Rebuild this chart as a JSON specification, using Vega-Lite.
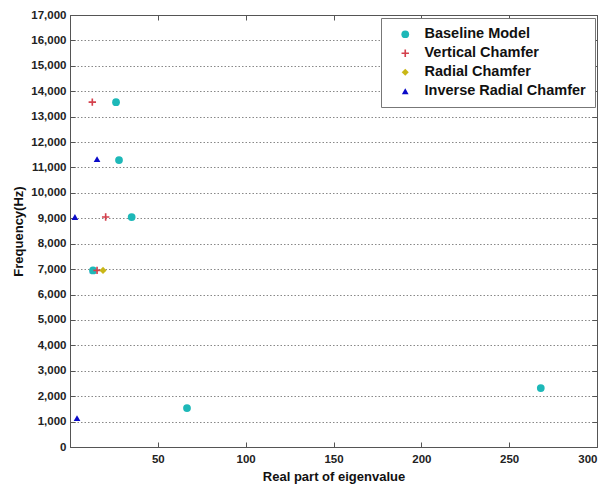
{
  "$schema": "https://vega.github.io/schema/vega-lite/v6.json",
  "width": 527,
  "height": 432,
  "autosize": {"type": "none"},
  "padding": {"left": 70, "top": 15, "right": 11, "bottom": 39},
  "background": "white",
  "config": {
    "view": {"stroke": "#555", "strokeWidth": 1},
    "font": "Liberation Sans",
    "axis": {
      "labelFont": "Liberation Sans",
      "labelFontWeight": "bold",
      "labelFontSize": 11.5,
      "labelColor": "#222",
      "titleFont": "Liberation Sans",
      "titleFontWeight": "bold",
      "titleFontSize": 13,
      "titleColor": "#111",
      "domainColor": "#555",
      "tickColor": "#555",
      "tickSize": -5
    },
    "legend": {
      "labelFont": "Liberation Sans",
      "labelFontWeight": "bold",
      "labelFontSize": 14.5,
      "labelColor": "#111",
      "labelLimit": 400
    }
  },
  "data": {
    "values": [
      {"model": "Inverse Radial Chamfer", "re": 13.0, "freq": 6950},
      {"model": "Inverse Radial Chamfer", "re": 15.4, "freq": 11330},
      {"model": "Inverse Radial Chamfer", "re": 2.8, "freq": 9050},
      {"model": "Inverse Radial Chamfer", "re": 4.0, "freq": 1140},
      {"model": "Baseline Model", "re": 26.2, "freq": 13570},
      {"model": "Baseline Model", "re": 27.9, "freq": 11290},
      {"model": "Baseline Model", "re": 35.1, "freq": 9050},
      {"model": "Baseline Model", "re": 13.1, "freq": 6950},
      {"model": "Baseline Model", "re": 66.6, "freq": 1530},
      {"model": "Baseline Model", "re": 268.0, "freq": 2320},
      {"model": "Vertical Chamfer", "re": 12.7, "freq": 13570},
      {"model": "Vertical Chamfer", "re": 20.3, "freq": 9050},
      {"model": "Vertical Chamfer", "re": 15.4, "freq": 6950},
      {"model": "Radial Chamfer", "re": 18.8, "freq": 6950}
    ]
  },
  "resolve": {"axis": {"x": "independent", "y": "independent"}},
  "layer": [
    {
      "mark": {"type": "point", "filled": true, "opacity": 1},
      "encoding": {
        "x": {
          "field": "re", "type": "quantitative",
          "scale": {"domain": [0, 300], "nice": false, "zero": false},
          "axis": {"orient": "bottom", "title": "Real part of eigenvalue", "values": [50, 100, 150, 200, 250, 300], "format": "d", "grid": false, "labelPadding": 11, "titlePadding": 6}
        },
        "y": {
          "field": "freq", "type": "quantitative",
          "scale": {"domain": [0, 17000], "nice": false},
          "axis": {"orient": "left", "title": "Frequency(Hz)", "values": [0, 1000, 2000, 3000, 4000, 5000, 6000, 7000, 8000, 9000, 10000, 11000, 12000, 13000, 14000, 15000, 16000, 17000], "format": ",d", "grid": true, "gridColor": "#888", "gridDash": [1.5, 2], "gridWidth": 1, "labelPadding": 9, "titlePadding": 5}
        },
        "color": {
          "field": "model", "type": "nominal",
          "scale": {"domain": ["Baseline Model", "Vertical Chamfer", "Radial Chamfer", "Inverse Radial Chamfer"], "range": ["#1db8b8", "#d4404c", "#c9b716", "#0a0ac8"]},
          "legend": {"title": null, "orient": "none", "legendX": 311, "legendY": 3, "strokeColor": "#777", "fillColor": "white", "padding": 9, "symbolOffset": 8, "labelOffset": 12, "rowPadding": 4, "symbolSize": 50}
        },
        "shape": {
          "field": "model", "type": "nominal",
          "scale": {"domain": ["Baseline Model", "Vertical Chamfer", "Radial Chamfer", "Inverse Radial Chamfer"], "range": ["circle", "M-1,-0.22H-0.22V-1H0.22V-0.22H1V0.22H0.22V1H-0.22V0.22H-1Z", "diamond", "triangle-up"]},
          "legend": null
        },
        "size": {
          "field": "model", "type": "nominal",
          "scale": {"domain": ["Baseline Model", "Vertical Chamfer", "Radial Chamfer", "Inverse Radial Chamfer"], "range": [60, 45, 45, 90]},
          "legend": null
        }
      }
    },
    {
      "mark": {"type": "point", "opacity": 0},
      "encoding": {
        "x": {
          "field": "re", "type": "quantitative",
          "axis": {"orient": "top", "title": null, "labels": false, "values": [50, 100, 150, 200, 250, 300], "grid": false}
        },
        "y": {
          "field": "freq", "type": "quantitative",
          "axis": {"orient": "right", "title": null, "labels": false, "values": [1000, 2000, 3000, 4000, 5000, 6000, 7000, 8000, 9000, 10000, 11000, 12000, 13000, 14000, 15000, 16000], "grid": false}
        }
      }
    }
  ]
}
